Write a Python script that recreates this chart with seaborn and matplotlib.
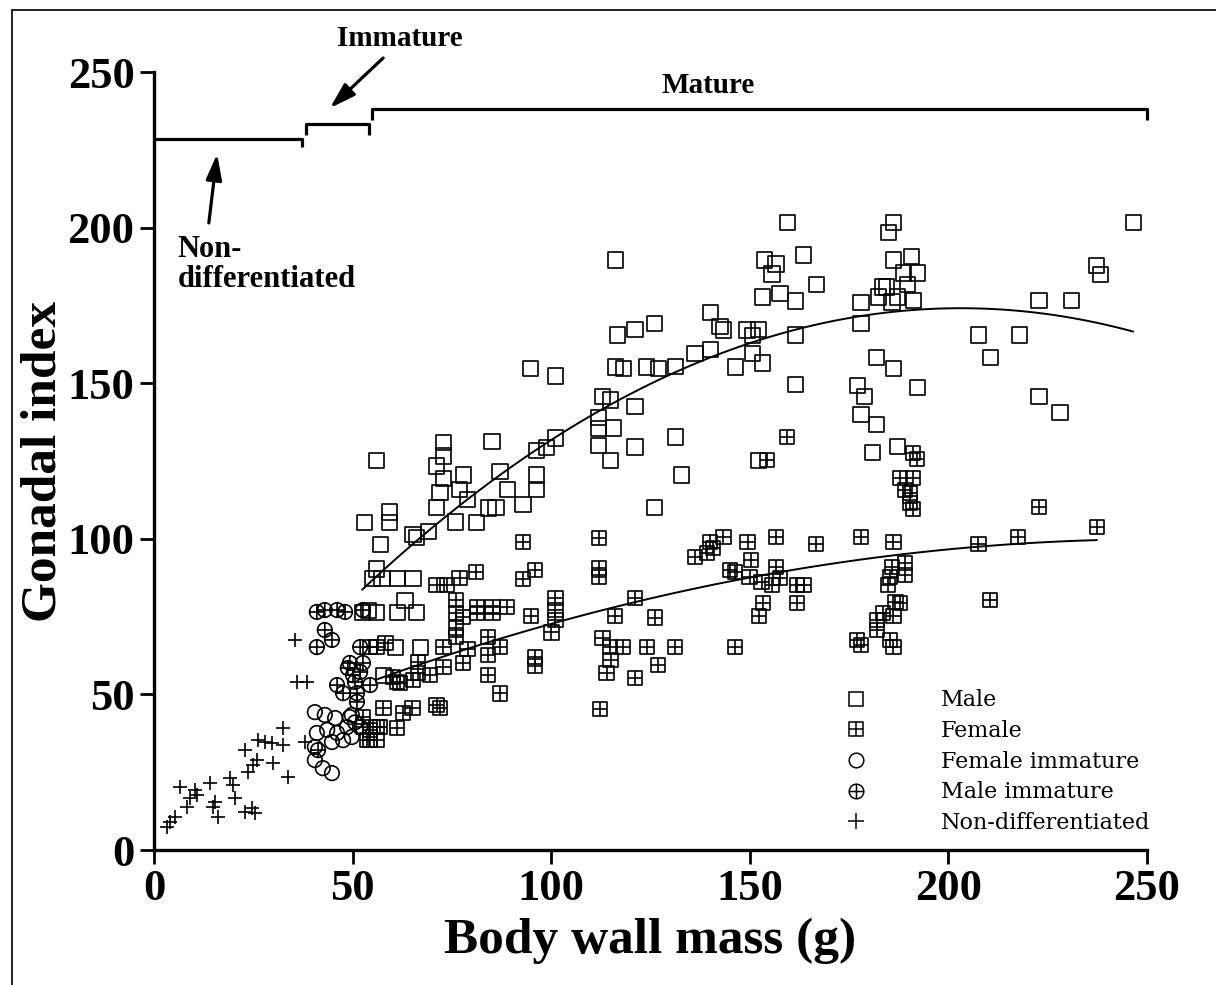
import numpy as np
import matplotlib
matplotlib.use("Agg")
import matplotlib.pyplot as plt
import seaborn as sns
from matplotlib.path import Path
from matplotlib.lines import Line2D

# ---------------- data ----------------
male_x = [53.1, 53.9, 55.1, 56.1, 56.1, 56.1, 57.1, 57.4, 57.7, 59.2, 59.2, 60.7, 61.2, 61.2, 63.2,
          65.2, 65.2, 66.2, 66.2, 67.0, 69.2, 52.4,
          71.2, 71.2, 72.0, 73.0, 73.0, 73.0, 76.0, 77.0, 78.0, 79.0, 81.1, 84.1, 85.1, 86.1, 87.1,
          89.1, 92.9, 94.7, 96.2, 96.2, 96.2, 98.9, 101.0, 101.0,
          112.0, 112.0, 112.0, 113.0, 115.0, 115.0, 115.6, 116.1, 116.1, 116.8, 118.1, 121.1, 121.1,
          121.1, 124.1, 126.1, 126.1, 126.9, 131.2, 131.2, 132.9, 136.2,
          140.2, 140.2, 142.5, 143.3, 146.3, 149.3, 150.6, 150.6, 152.3, 153.3, 153.3, 153.6, 155.6,
          156.6, 157.6, 159.4, 161.6, 161.6, 161.6, 163.6, 166.9, 152.3,
          177.0, 178.0, 178.0, 178.0, 178.8, 181.0, 182.0, 182.0, 182.3, 183.5, 184.5, 185.0, 185.8,
          186.1, 186.1, 186.1, 187.1, 187.1, 188.6, 189.6, 190.8, 191.1, 192.3, 192.3,
          207.5, 210.7, 217.8, 222.8, 222.8, 228.1, 231.1, 237.4, 238.4, 246.5]
male_y = [105.1, 77.1, 87.1, 125.3, 90.3, 76.2, 98.3, 87.1, 56.2, 108.6, 105.1, 65.2, 87.1, 76.2, 80.3,
          101.5, 87.1, 100.3, 76.2, 65.2, 102.2, 76.2,
          123.4, 110.2, 115.0, 130.8, 126.6, 119.5, 105.4, 115.7, 120.5, 112.5, 105.1, 109.9, 131.4, 110.2, 121.5,
          115.7, 110.9, 154.6, 128.5, 120.5, 115.7, 129.2, 152.3, 132.4,
          139.1, 135.3, 130.1, 145.6, 144.6, 125.3, 135.6, 189.6, 155.2, 165.5, 154.6, 167.4, 142.4,
          129.5, 155.2, 169.3, 110.2, 154.6, 155.5, 132.7, 120.5, 159.4,
          172.6, 160.7, 168.1, 167.1, 155.2, 167.1, 165.2, 159.4, 167.4, 177.7, 156.5, 189.6, 185.1,
          188.3, 178.7, 201.5, 176.4, 165.5, 149.7, 191.2, 181.6, 125.3,
          149.4, 175.8, 169.3, 139.8, 145.6, 127.6, 158.4, 136.6, 177.7, 180.9, 180.9, 198.3, 176.1,
          201.5, 189.6, 154.6, 177.7, 129.8, 185.4, 181.6, 190.6, 176.7, 185.4, 148.5,
          165.5, 158.4, 165.5, 176.7, 145.6, 140.7, 176.7, 187.7, 184.8, 201.5]

female_x = [52.6, 52.6, 53.6, 56.1, 56.1, 56.1, 57.7, 61.2, 61.2, 62.7, 65.0, 66.5, 66.5, 69.5, 71.2,
            71.2, 72.0, 72.8, 72.8, 73.8, 76.0, 76.0, 76.0, 76.0, 77.0, 77.8, 77.8, 79.0, 81.1, 81.3,
            81.3, 84.1, 84.1, 84.1, 85.3, 85.3, 87.1, 87.1, 88.9, 92.9, 92.9, 94.9, 95.9, 95.9, 95.9,
            100.0, 101.0, 101.0, 101.0, 112.0, 112.0, 112.0, 112.3, 113.0, 114.0, 114.8, 115.0, 116.1,
            118.1, 121.1, 121.1, 124.1, 126.1, 126.9, 131.2, 136.2, 139.2, 140.0, 140.7, 143.3, 145.0,
            146.3, 146.3, 149.5, 150.0, 150.3, 152.3, 153.0, 153.3, 154.3, 155.6, 156.6, 156.6, 157.6,
            159.4, 161.9, 161.9, 163.6, 166.7, 177.0, 178.0, 178.0, 182.0, 182.0, 183.5, 184.8, 185.3,
            185.3, 185.8, 186.1, 186.1, 186.1, 186.6, 187.8, 187.8, 189.1, 189.1, 189.1, 190.3, 190.3,
            191.1, 191.1, 191.1, 192.1, 207.5, 210.5, 217.5, 222.8, 237.4,
            54.4, 58.2, 60.2, 61.9, 65.2, 54.4, 54.4, 56.9]
female_y = [42.7, 39.5, 35.3, 39.5, 35.3, 65.2, 45.6, 54.0, 39.2, 44.0, 45.6, 60.4, 56.9, 56.2, 85.2,
            46.6, 45.6, 65.2, 58.8, 85.2, 80.3, 76.2, 71.3, 68.4, 87.4, 74.9, 60.1, 64.6, 89.3, 78.1,
            76.2, 68.4, 62.7, 56.2, 78.1, 76.2, 65.2, 50.4, 78.1, 99.0, 87.1, 75.2, 90.0, 62.0, 59.1,
            70.0, 81.0, 77.1, 73.9, 100.3, 90.6, 87.7, 45.3, 68.1, 56.9, 65.2, 61.1, 75.2,
            65.2, 81.0, 55.3, 65.2, 74.6, 59.4, 65.2, 94.2, 95.4, 99.0, 97.0, 100.6, 90.0,
            89.3, 65.2, 99.0, 87.7, 93.2, 75.2, 86.1, 79.4, 125.3, 85.2, 100.6, 90.9, 87.4,
            132.7, 85.2, 79.4, 85.2, 98.3, 67.5, 100.6, 65.9, 73.9, 70.7, 76.2, 85.2, 87.7,
            67.5, 90.9, 99.0, 75.2, 65.2, 79.7, 119.5, 79.4, 115.7, 92.2, 88.4, 114.7, 111.5,
            127.6, 119.5, 109.6, 125.6, 98.3, 80.3, 100.6, 110.2, 103.8,
            65.2, 66.5, 55.6, 53.7, 54.6, 38.6, 35.3, 39.5]

fem_imm_x = [40.5, 43.0, 45.6, 49.8, 41.0, 43.6, 46.1, 48.6, 47.6, 49.8, 40.5, 44.8, 51.9, 40.5,
             42.5, 44.8, 50.6, 49.3]
fem_imm_y = [44.3, 43.4, 42.4, 43.4, 37.6, 38.6, 37.6, 39.5, 35.3, 36.3, 33.1, 34.7, 39.5, 28.9,
             26.3, 24.7, 41.0, 42.7]

male_imm_x = [41.0, 43.0, 46.1, 48.1, 52.6, 43.0, 44.8, 41.0, 51.9, 49.3, 52.6, 48.8, 50.1, 51.9,
              50.6, 54.4, 46.1, 47.6, 51.1, 51.1, 41.3]
male_imm_y = [76.5, 77.1, 77.1, 76.5, 77.1, 70.7, 67.5, 65.2, 65.2, 60.1, 60.1, 58.5, 56.2, 57.2,
              54.0, 53.0, 53.0, 50.4, 50.4, 47.6, 32.1]

nondiff_x = [3.3, 4.0, 5.3, 6.5, 8.3, 10.3, 10.8, 9.1, 14.1, 14.9, 16.1, 15.4, 19.1, 19.9, 20.4,
             22.9, 23.7, 22.9, 24.7, 25.4, 26.2, 27.9, 25.9, 30.0, 29.7, 32.5, 32.5, 33.7, 24.9,
             38.0, 35.5, 36.0, 38.5]
nondiff_y = [7.4, 9.0, 10.6, 20.2, 13.8, 19.3, 17.7, 16.7, 21.5, 13.8, 10.6, 15.4, 23.1, 20.9, 16.7,
             32.1, 25.1, 12.2, 13.5, 11.9, 35.3, 34.7, 28.9, 28.0, 34.4, 39.2, 33.7, 23.5, 27.3,
             34.7, 67.5, 54.0, 54.0]

legend_labels = ["Male", "Female", "Female immature", "Male immature", "Non-differentiated"]
ticks = [0, 50, 100, 150, 200, 250]
stage_bounds = [0, 37.3, 38.3, 54.1, 54.9, 250]   # bracket ends (g)
stage_levels = [228.5, 233.3, 238.1]              # bracket heights
mature_min = 54.9                                 # fits use mature animals only

# ---------------- styling ----------------
sns.set_theme(style="ticks")
plt.rcParams['font.family'] = ['Liberation Serif', 'DejaVu Serif']
plt.rcParams.update({'text.color': 'black', 'axes.labelcolor': 'black',
                     'xtick.color': 'black', 'ytick.color': 'black', 'axes.edgecolor': 'black'})

fig = plt.figure(figsize=(12.16, 9.85), dpi=100)
ax = fig.add_axes([154 / 1216, 135 / 985, 993 / 1216, 778 / 985])

# custom markers
sq_plus = Path([[-1, -1], [1, -1], [1, 1], [-1, 1], [-1, -1], [-1, 0], [1, 0], [0, -1], [0, 1]],
               [Path.MOVETO, Path.LINETO, Path.LINETO, Path.LINETO, Path.CLOSEPOLY,
                Path.MOVETO, Path.LINETO, Path.MOVETO, Path.LINETO])
circ = Path.unit_circle()
circ_plus = Path(np.vstack([circ.vertices, [[-1, 0], [1, 0], [0, -1], [0, 1]]]),
                 np.concatenate([circ.codes, [Path.MOVETO, Path.LINETO, Path.MOVETO, Path.LINETO]]))

common = dict(facecolors='none', edgecolor='black', linewidth=1.2, ax=ax, legend=False, zorder=3)
sns.scatterplot(x=male_x, y=male_y, marker='s', s=118, **common)
sns.scatterplot(x=female_x, y=female_y, marker=sq_plus, s=112, **common)
sns.scatterplot(x=fem_imm_x, y=fem_imm_y, marker='o', s=110, **common)
sns.scatterplot(x=male_imm_x, y=male_imm_y, marker=circ_plus, s=110, **common)
sns.scatterplot(x=nondiff_x, y=nondiff_y, marker='+', s=95, color='black', linewidth=1.2,
                ax=ax, legend=False, zorder=3)

# fitted curves (quadratic, mature animals)
mx = np.array(male_x); my = np.array(male_y)
fx = np.array(female_x); fy = np.array(female_y)
sns.regplot(x=mx, y=my, order=2, ci=None, scatter=False, truncate=True,
            color='black', line_kws=dict(lw=1.4), ax=ax)
fsel = fx >= mature_min
sns.regplot(x=fx[fsel], y=fy[fsel], order=2, ci=None, scatter=False, truncate=True,
            color='black', line_kws=dict(lw=1.4), ax=ax)

ax.set_xlim(0, 250)
ax.set_ylim(0, 250)
sns.despine(ax=ax)
for s in ['left', 'bottom']:
    ax.spines[s].set_linewidth(2.4)
ax.set_xticks(ticks, [str(t) for t in ticks], fontsize=32, fontweight='bold')
ax.set_yticks(ticks, [str(t) for t in ticks], fontsize=32, fontweight='bold')
ax.tick_params(width=2, length=10, direction='out', pad=4, colors='black')
ax.set_xlabel("Body wall mass (g)", fontsize=37, fontweight='bold', labelpad=6)
ax.set_ylabel("Gonadal index", fontsize=37, fontweight='bold', labelpad=1)

# stage brackets
bk = dict(color='black', lw=2.3, clip_on=False, solid_capstyle='butt')
ax.plot([stage_bounds[0], stage_bounds[1], stage_bounds[1]],
        [stage_levels[0], stage_levels[0], stage_levels[0] - 2.6], **bk)
ax.plot([stage_bounds[2], stage_bounds[2], stage_bounds[3], stage_bounds[3]],
        [stage_levels[1] - 3.5, stage_levels[1], stage_levels[1], stage_levels[1] - 3.5], **bk)
ax.plot([stage_bounds[4], stage_bounds[4], stage_bounds[5], stage_bounds[5]],
        [stage_levels[2] - 3.5, stage_levels[2], stage_levels[2], stage_levels[2] - 3.5], **bk)

ax.text(61.9, 260.9, "Immature", fontsize=21, fontweight='bold', ha='center', va='center')
ax.text(139.5, 245.8, "Mature", fontsize=21, fontweight='bold', ha='center', va='center')
ax.text(6.0, 197.5, "Non-\ndifferentiated", fontsize=22, fontweight='bold', ha='left', va='top',
        linespacing=1.05)
arr = dict(arrowstyle='-|>,head_length=1.3,head_width=0.4', lw=2.3, color='black',
           shrinkA=0, shrinkB=0)
ax.annotate('', xy=(44.3, 238.4), xytext=(57.7, 254.5), arrowprops=arr, annotation_clip=False)
ax.annotate('', xy=(15.9, 223.7), xytext=(13.8, 201.5), arrowprops=arr, annotation_clip=False)

# legend
handles = [
    Line2D([], [], ls='none', marker='s', ms=10.5, mfc='none', mec='black', mew=1.1),
    Line2D([], [], ls='none', marker=sq_plus, ms=10.5, mfc='none', mec='black', mew=1.1),
    Line2D([], [], ls='none', marker='o', ms=10.5, mfc='none', mec='black', mew=1.1),
    Line2D([], [], ls='none', marker=circ_plus, ms=10.5, mfc='none', mec='black', mew=1.1),
    Line2D([], [], ls='none', marker='+', ms=11, mec='black', mew=1.1),
]
leg = ax.legend(handles, legend_labels, loc='upper left', bbox_to_anchor=(0.687, 0.218),
                frameon=False, handlelength=1.0, handletextpad=3.3, labelspacing=0.39,
                prop=dict(family='DejaVu Serif', size=16), borderaxespad=0)

# page frame
fig.add_artist(Line2D([12 / 1216, 12 / 1216], [0, 1 - 10 / 985], transform=fig.transFigure,
                      color='black', lw=1.2))
fig.add_artist(Line2D([12 / 1216, 1], [1 - 10 / 985, 1 - 10 / 985], transform=fig.transFigure,
                      color='black', lw=1.2))

fig.savefig("out.png", dpi=100)
